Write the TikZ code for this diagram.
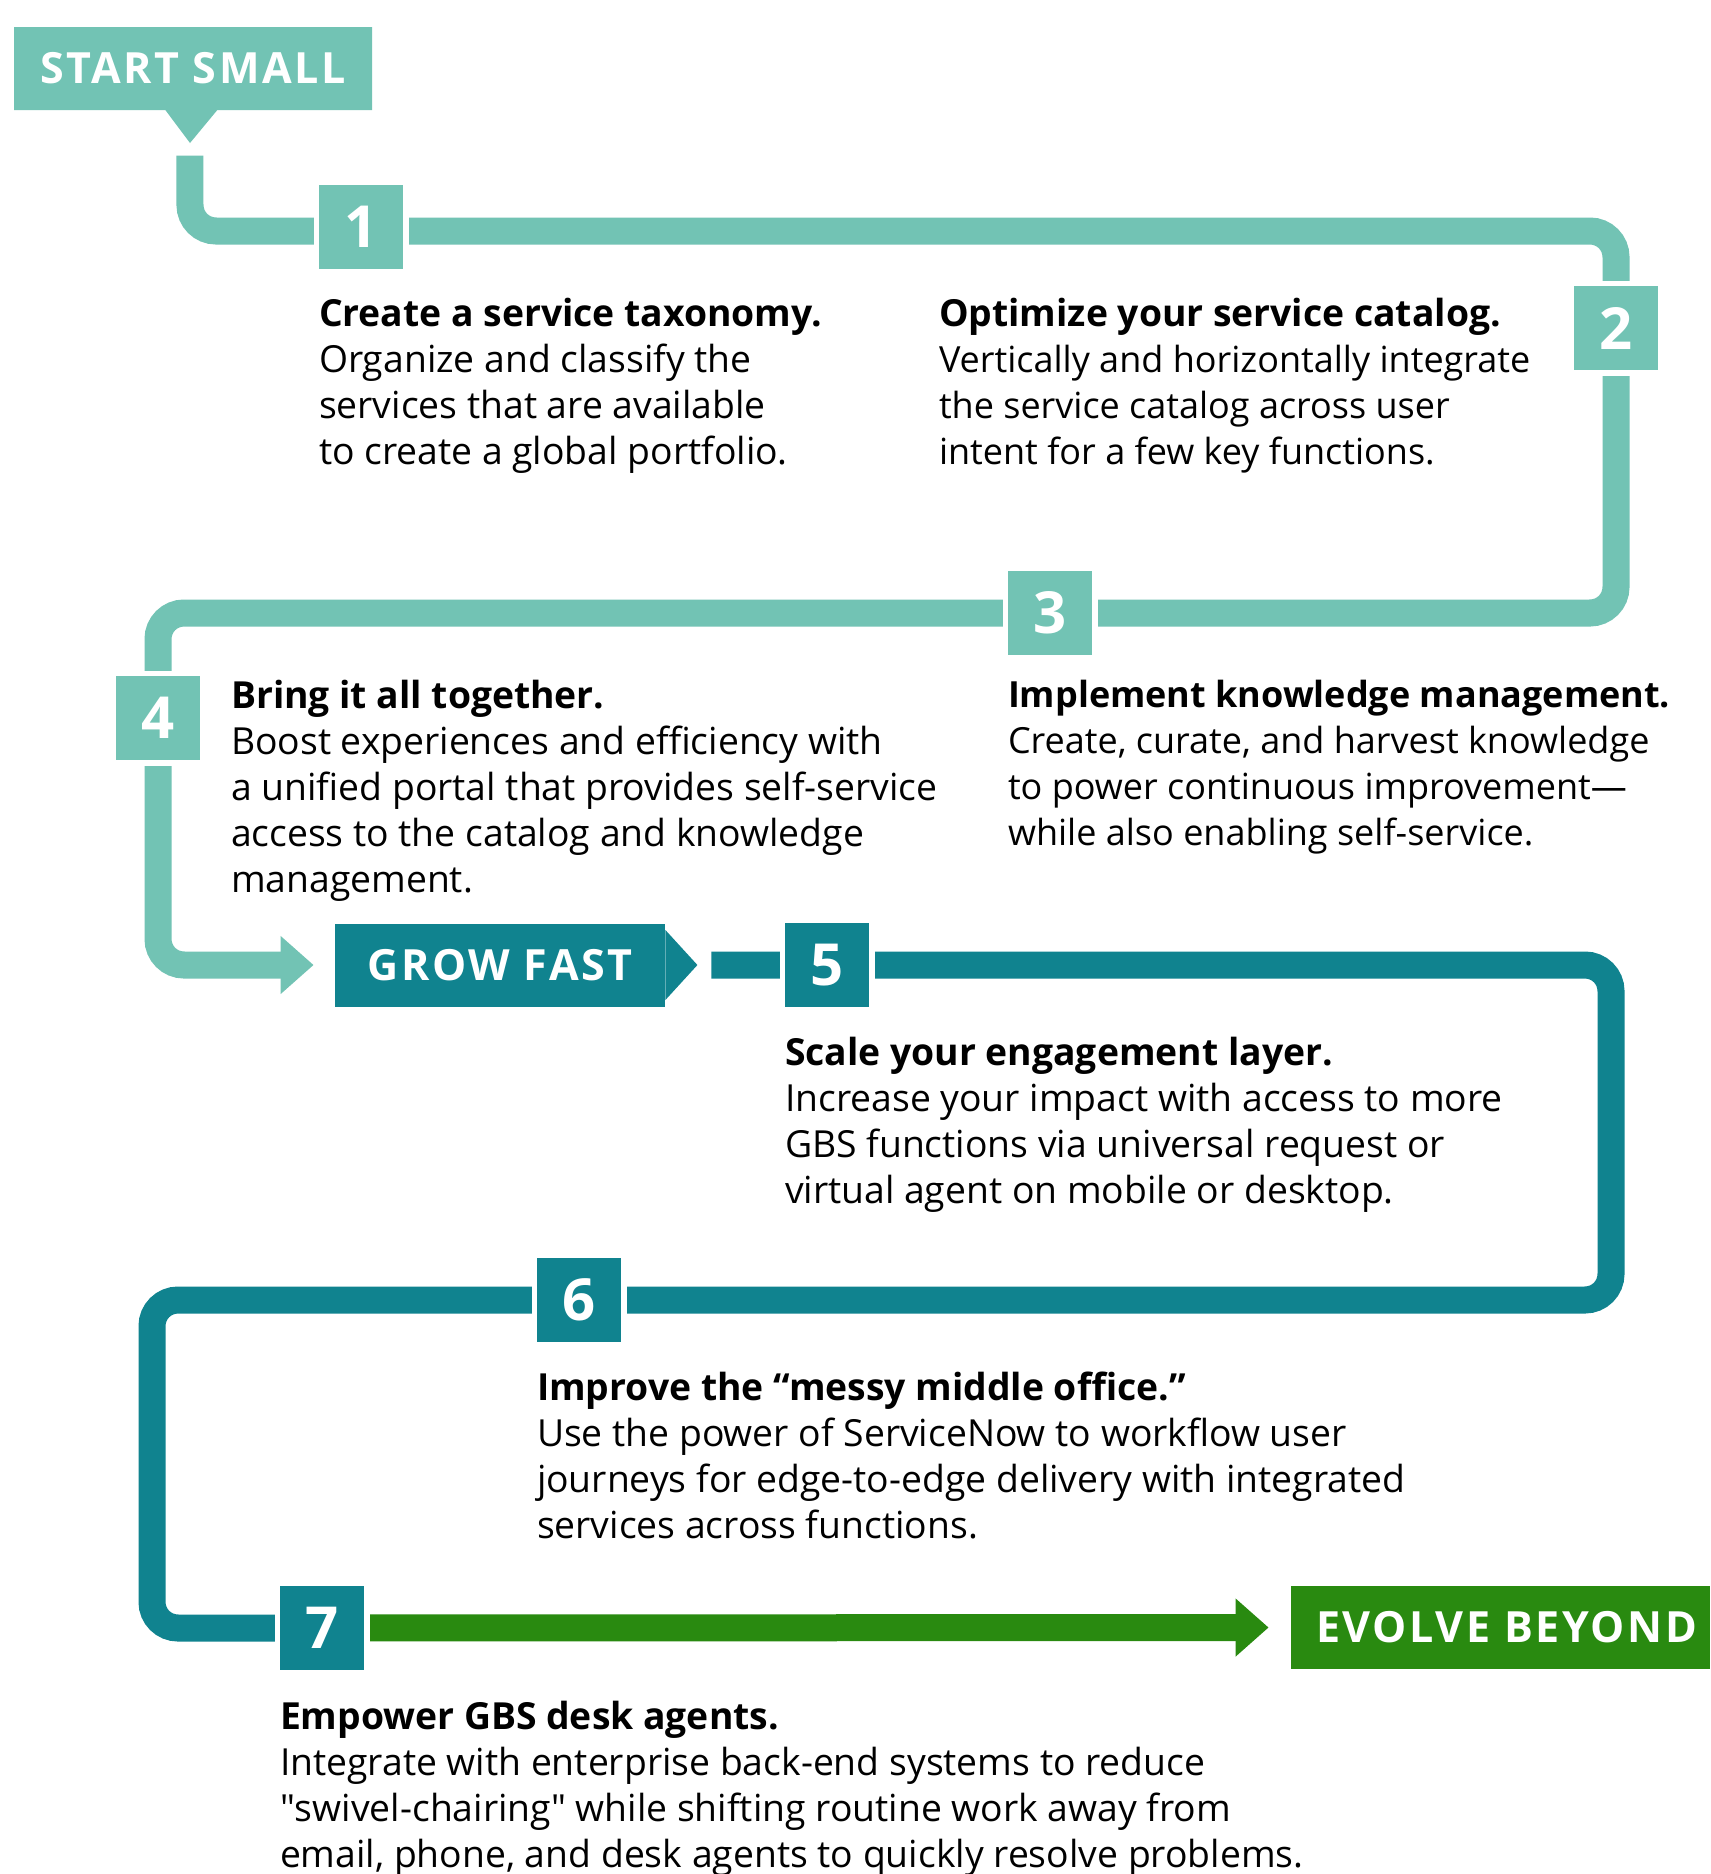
\documentclass[tikz,border=0pt]{standalone}
\usepackage{fontspec}
\setmainfont{Open Sans}
\usetikzlibrary{arrows.meta,positioning,backgrounds,shapes.callouts}

\definecolor{mint}{HTML}{72C3B4}
\definecolor{petrol}{HTML}{10838F}
\definecolor{leaf}{HTML}{298A10}

\newcommand{\stagefont}{\fontsize{21.5}{26}\selectfont\bfseries\addfontfeatures{LetterSpace=6}}

\begin{document}
\begin{tikzpicture}[
  x=0.5pt, y=-0.5pt,
  >={Triangle[width=28pt,length=16.5pt]},
  stepnum/.style={
    rectangle, fill=#1, minimum size=42pt, inner sep=0pt,
    text=white, font=\fontsize{29}{29}\selectfont\bfseries,
    preaction={draw=white, line width=5.5pt}
  },
  stage/.style={
    rectangle, fill=#1, text=white, font=\stagefont,
    inner sep=0pt, minimum height=41.5pt
  },
  note/.style={
    align=left, inner sep=0pt, anchor=north west,
    font=\fontsize{18}{23}\selectfont
  },
  wide note/.style={note, font=\fontsize{18.65}{23}\selectfont},
  trail/.style={draw=#1, line width=13.5pt, rounded corners=13pt},
]
  \useasboundingbox (0,0) rectangle (1710,1874);

  % Stage labels
  \node[stage=mint, rectangle callout, callout absolute pointer={(190,143)},
    callout pointer width=26pt, minimum width=179pt] (start) at (193,68.5) {START SMALL};
  \node[stage=petrol, minimum width=165pt] (grow) at (500,965) {GROW FAST};
  \fill[petrol] ([yshift=17.5pt]grow.east) -- ([xshift=16pt]grow.east)
    -- ([yshift=-17.5pt]grow.east) -- cycle;
  \coordinate (growtip) at ([xshift=16pt]grow.east);
  \node[stage=leaf, minimum width=209.5pt] (evolve) at (1500.5,1627.5) {\hspace{6pt}EVOLVE BEYOND};

  % Step squares
  \node[stepnum=mint] (s1) at (361,227) {1};
  \node[stepnum=mint] (s2) at (1616,328) {2};
  \node[stepnum=mint] (s3) at (1050,613) {3};
  \node[stepnum=mint] (s4) at (158,718) {4};
  \node[stepnum=petrol] (s5) at (827,965) {5};
  \node[stepnum=petrol] (s6) at (579,1300) {6};
  \node[stepnum=petrol] (s7) at (322,1628) {7};

  % Bends of the dark track
  \coordinate (bendR) at (1611,1130);
  \coordinate (bendL) at (152,1460);

  % Step texts
  \node[wide note, below right=14pt and 0pt of s1.south west] (t1)
    {\textbf{Create a service taxonomy.}\\Organize and classify the\\services that are available\\to create a global portfolio.};
  \node[note] (t2) at ([xshift=310pt]t1.north west)
    {\textbf{\fontsize{18.65}{23}\selectfont Optimize your service catalog.}\\Vertically and horizontally integrate\\the service catalog across user\\intent for a few key functions.};
  \node[note, below right=12pt and 0pt of s3.south west] (t3)
    {\textbf{Implement knowledge management.}\\Create, curate, and harvest knowledge\\to power continuous improvement—\\while also enabling self-service.};
  \node[wide note] (t4) at ([xshift=-388.5pt]t3.north west)
    {\textbf{Bring it all together.}\\Boost experiences and efficiency with\\a unified portal that provides self-service\\access to the catalog and knowledge\\management.};
  \node[wide note, below right=14.5pt and 0pt of s5.south west] (t5)
    {\textbf{Scale your engagement layer.}\\Increase your impact with access to more\\GBS functions via universal request or\\virtual agent on mobile or desktop.};
  \node[wide note, below right=14.5pt and 0pt of s6.south west] (t6)
    {\textbf{Improve the “messy middle office.”}\\Use the power of ServiceNow to workflow user\\journeys for edge-to-edge delivery with integrated\\services across functions.};
  \node[wide note, below right=15pt and 0pt of s7.south west] (t7)
    {\textbf{Empower GBS desk agents.}\\Integrate with enterprise back-end systems to reduce\\\textquotedbl swivel-chairing\textquotedbl{} while shifting routine work away from\\email, phone, and desk agents to quickly resolve problems.};

  % Tracks
  \begin{scope}[on background layer]
    \fill[white] (0,0) rectangle (1710,1874);
    \draw[trail=mint, ->] ([yshift=-6pt]start.pointer) |- ([yshift=-2pt]s1.center) -| (s2.center)
      |- (s3.center) -| (s4.center) |- ([xshift=-10.5pt]grow.west);
    \draw[trail=petrol] ([xshift=7pt]growtip) -- (s5.center) -| (bendR)
      |- (s6.center) -| (bendL) |- (s7.center);
    \draw[trail=leaf, ->] (s7.center) -- ([xshift=-11pt]evolve.west);
  \end{scope}
\end{tikzpicture}
\end{document}
